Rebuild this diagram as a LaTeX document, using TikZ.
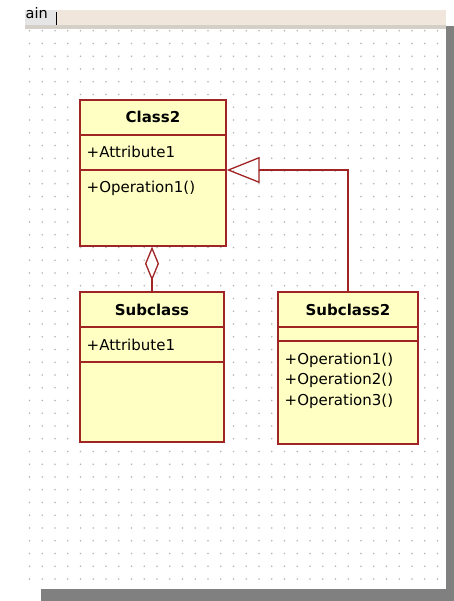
\documentclass[tikz,border=0pt]{standalone}
\usepackage{fontspec}
\setmainfont{DejaVu Sans}
\usetikzlibrary{arrows.meta,positioning}
\definecolor{umlred}{RGB}{160,36,36}
\definecolor{umlfill}{RGB}{255,255,196}
\definecolor{tabbeige}{RGB}{240,230,220}
\definecolor{tabgray}{RGB}{212,208,200}
\definecolor{dotgray}{RGB}{180,180,180}
\definecolor{shadowgray}{RGB}{128,128,128}
\tikzstyle{umlbox}=[rectangle, draw=umlred, fill=umlfill, line width=1.3pt, inner sep=0pt]
\tikzstyle{umltitle}=[inner sep=0pt, anchor=base, font=\fontsize{15}{18}\selectfont\bfseries]
\tikzstyle{member}=[inner sep=0pt, anchor=base west, font=\fontsize{15}{18}\selectfont]
\tikzstyle{divider}=[draw=umlred, line width=1.3pt]
\tikzstyle{agg}=[draw=umlred, line width=1.3pt, {Diamond[open, length=34pt, width=14pt]}-]
\tikzstyle{inherit}=[draw=umlred, line width=1.3pt, -{Triangle[open, length=33pt, width=26pt]}]
\newcommand{\umlbox}{\node[umlbox]}
\newcommand{\member}{\node[member]}

\begin{document}
\begin{tikzpicture}[x=1pt, y=-1pt]
                    \useasboundingbox[fill=white] (0,0) rectangle (454,601);
                    \fill[shadowgray] (446,26) rectangle (454,601);
                    \fill[shadowgray] (41,589) rectangle (454,601);
                    \fill[white] (25,28) rectangle (446,589);
                    \fill[black!10] (25,10) rectangle (57,28);
                    \fill[tabbeige] (57,10) rectangle (446,25);
                    \fill[tabgray] (25,25) rectangle (446,29);
                    \node[inner sep=0pt, anchor=base west, font=\fontsize{14.5}{17}\selectfont] (tab) at (25.5,19) {ain};
                    \draw[line width=1pt] (56,12) -- (56,25);
                    \foreach \i in {0,...,32}
                        \foreach \j in {0,...,43}
                            \fill[dotgray] (29.5+12.75*\i,30.8+12.75*\j) circle (0.9);
                    \umlbox[minimum width=146, minimum height=146] (class2) at (153,173) {};
                    \umlbox[minimum width=144, minimum height=150] (sub) at (152,367) {};
                    \umlbox[minimum width=140, minimum height=152] (sub2) at (348,368) {};
                    \draw[divider] (class2.west |- 0,135) -- (class2.east |- 0,135);
                    \draw[divider] (class2.west |- 0,170) -- (class2.east |- 0,170);
                    \draw[divider] (sub.west |- 0,327) -- (sub.east |- 0,327);
                    \draw[divider] (sub.west |- 0,362) -- (sub.east |- 0,362);
                    \draw[divider] (sub2.west |- 0,327) -- (sub2.east |- 0,327);
                    \draw[divider] (sub2.west |- 0,341) -- (sub2.east |- 0,341);
                    \node[umltitle] (class2name) at (153,123) {Class2};
                    \node[umltitle] (subname) at (152,315) {Subclass};
                    \node[umltitle] (sub2name) at (348,315) {Subclass2};
                    \member (class2attr) at (86.5,158) {+Attribute1};
                    \member (class2op) at (86.5,193) {+Operation1()};
                    \member (subattr) at (86.5,350.5) {+Attribute1};
                    \foreach \k/\y in {1/364,2/384.5,3/405}
                        \member (sub2op\k) at (284.5,\y) {+Operation\k()};
                    \path[agg] (class2.south -| sub.north) -- (sub.north);
                    \path[inherit] (sub2.north) |- ([yshift=3pt]class2.east);
                \end{tikzpicture}
\end{document}
